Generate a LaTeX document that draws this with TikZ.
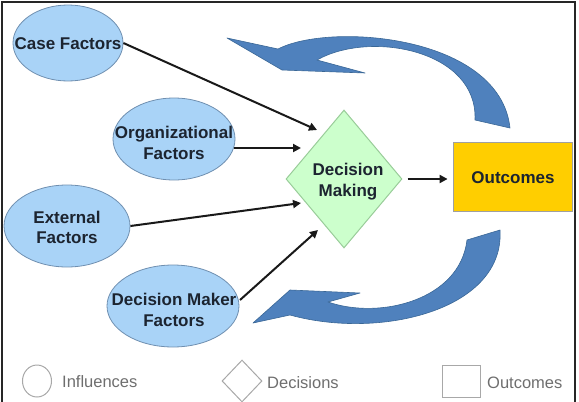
\documentclass[tikz,border=0pt]{standalone}
\usepackage{fontspec}
\setmainfont{Liberation Sans}
\usetikzlibrary{shapes.geometric,arrows.meta}
\definecolor{ellF}{HTML}{A9D3F7}
\definecolor{ellB}{HTML}{6F8FB0}
\definecolor{dmF}{HTML}{CCFFCC}
\definecolor{dmB}{HTML}{99CC99}
\definecolor{outF}{HTML}{FFCE00}
\definecolor{outB}{HTML}{A0A0A0}
\definecolor{blueF}{HTML}{4F81BD}
\definecolor{blueB}{HTML}{3A6796}
\definecolor{txt}{HTML}{1C2430}
\definecolor{legB}{HTML}{A8A8A8}
\definecolor{legT}{HTML}{6E6E6E}
\begin{document}
\begin{tikzpicture}[x=1pt,y=-1pt,
  infl/.style={ellipse, draw=ellB, fill=ellF, line width=0.8pt, inner sep=0pt},
  dmshape/.style={diamond, draw=dmB, fill=dmF, line width=1pt, inner sep=0pt},
  outbox/.style={rectangle, draw=outB, fill=outF, line width=0.8pt, inner sep=0pt},
  lbl/.style={font=\fontsize{17}{20.5}\selectfont\bfseries, align=center, text=txt, inner sep=0pt},
  legshape/.style={draw=legB, line width=1pt, fill=white, inner sep=0pt},
  legtxt/.style={font=\fontsize{16.5}{20}\selectfont, text=legT, anchor=west, inner sep=0pt},
  conn/.style={draw=black!90, line width=2pt, -{Triangle[length=8pt,width=8pt]}},
  bigarrow/.style={fill=blueF, draw=blueB, line width=0.6pt, line join=round}
]
\useasboundingbox (0,0) rectangle (579,402);
% frame
\draw[line width=1.6pt, black!85] (2,402) -- (2,2) -- (575,2) -- (575,402);

% big curved arrows
\path[bigarrow] (227,38) -- (278,49)
  .. controls (330,22) and (500,35) .. (510,128)
  -- (475,120)
  .. controls (478,50) and (370,30) .. (317,60)
  -- (365,73) -- (282,70) -- cycle;
\path[bigarrow] (253,323) -- (290,290) -- (360,293) -- (328,302)
  .. controls (380,320) and (460,300) .. (467,240)
  -- (500,230)
  .. controls (505,310) and (380,340) .. (290,315)
  -- cycle;

% influence nodes
\node[infl, minimum width=110pt, minimum height=76pt] (case) at (68,43) {};
\node[lbl] (caseT) at (68,44) {Case Factors};
\node[infl, minimum width=122pt, minimum height=82pt] (org) at (174,139) {};
\node[lbl] (orgT) at (174,143) {Organizational\\Factors};
\node[infl, minimum width=126pt, minimum height=82pt] (ext) at (67,226) {};
\node[lbl] (extT) at (67,227.5) {External\\Factors};
\node[infl, minimum width=132pt, minimum height=82pt] (dmf) at (173,306) {};
\node[lbl] (dmfT) at (174,310) {Decision Maker\\Factors};

% decision
\node[dmshape, minimum width=116pt, minimum height=138pt] (dm) at (344,179) {};
\node[lbl] (dmT) at (348,181.5) {Decision\\Making};

% outcomes
\node[outbox, minimum width=119pt, minimum height=69pt] (out) at (512.5,176.5) {};
\node[lbl] (outT) at (513,178) {Outcomes};

% arrow targets
\coordinate (inA) at (317,130);
\coordinate (inB) at (301,148);
\coordinate (inC) at (301,203);
\coordinate (inD) at (318,230);
\coordinate (orgE) at (234,148);
\coordinate (dmfE) at (240,300);

\draw[conn] (case.east) -- (inA);
\draw[conn] (orgE) -- (inB);
\draw[conn] (ext.east) -- (inC);
\draw[conn] (dmfE) -- (inD);
\draw[conn, shorten <=5pt, shorten >=5pt] (dm.east) -- (dm.east -| out.west);

% legend
\node[legshape, ellipse, minimum width=29pt, minimum height=32pt] (legC) at (37,381) {};
\node[legtxt] (legCT) at (62,382) {Influences};
\node[legshape, diamond, minimum width=40pt, minimum height=42pt] (legD) at (242,381) {};
\node[legtxt] (legDT) at (267,383) {Decisions};
\node[legshape, rectangle, minimum width=38pt, minimum height=32pt] (legR) at (461,381) {};
\node[legtxt] (legRT) at (487,383) {Outcomes};
\end{tikzpicture}
\end{document}
